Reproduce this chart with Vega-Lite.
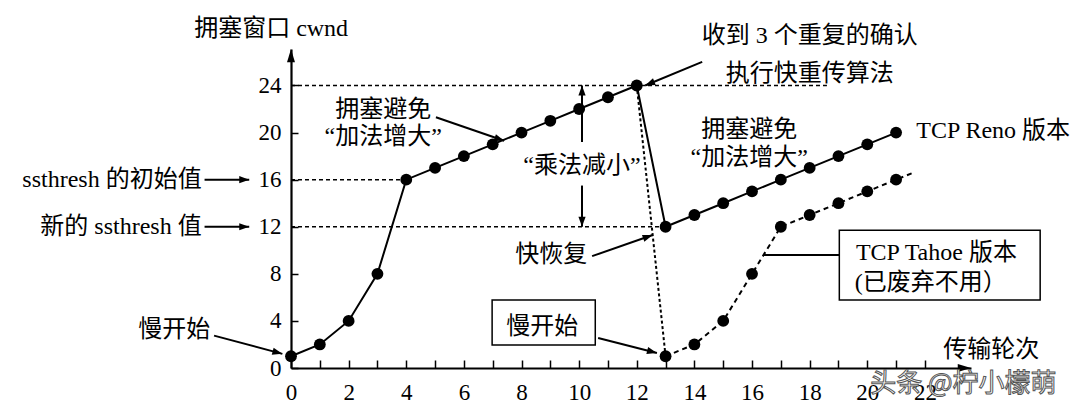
{
  "$schema": "https://vega.github.io/schema/vega-lite/v6.json",
  "width": 680,
  "height": 319,
  "autosize": {"type": "none"},
  "padding": {"left": 291, "top": 49, "right": 109, "bottom": 46},
  "background": "white",
  "config": {"view": {"stroke": null}, "font": "Liberation Serif"},
  "datasets": {
    "reno": [
      {"x": 0, "y": 1}, {"x": 1, "y": 2}, {"x": 2, "y": 4}, {"x": 3, "y": 8}, {"x": 4, "y": 16},
      {"x": 5, "y": 17}, {"x": 6, "y": 18}, {"x": 7, "y": 19}, {"x": 8, "y": 20}, {"x": 9, "y": 21},
      {"x": 10, "y": 22}, {"x": 11, "y": 23}, {"x": 12, "y": 24}, {"x": 13, "y": 12}, {"x": 14, "y": 13},
      {"x": 15, "y": 14}, {"x": 16, "y": 15}, {"x": 17, "y": 16}, {"x": 18, "y": 17}, {"x": 19, "y": 18},
      {"x": 20, "y": 19}, {"x": 21, "y": 20}
    ],
    "drop": [{"x": 12, "y": 24}, {"x": 13, "y": 1}],
    "tahoe": [
      {"x": 13, "y": 1, "dot": true}, {"x": 14, "y": 2, "dot": true}, {"x": 15, "y": 4, "dot": true},
      {"x": 16, "y": 8, "dot": true}, {"x": 17, "y": 12, "dot": true}, {"x": 18, "y": 13, "dot": true},
      {"x": 19, "y": 14, "dot": true}, {"x": 20, "y": 15, "dot": true}, {"x": 21, "y": 16, "dot": true},
      {"x": 21.6, "y": 16.6, "dot": false}
    ],
    "refs": [
      {"y": 24, "x": 0, "x2": 18.6},
      {"y": 16, "x": 0, "x2": 4},
      {"y": 12, "x": 0, "x2": 13}
    ],
    "arrows": [
      {"x": 14.27, "y": 26.0, "x2": 12.29, "y2": 24.0, "angle": 247.5, "head": true},
      {"x": 5.03, "y": 21.3, "x2": 7.4, "y2": 19.3, "angle": 109, "head": true},
      {"x": -3.0, "y": 16, "x2": -1.45, "y2": 16, "angle": 90, "head": true},
      {"x": -3.0, "y": 12, "x2": -1.45, "y2": 12, "angle": 90, "head": true},
      {"x": -2.67, "y": 2.75, "x2": -0.3, "y2": 1.2, "angle": 105, "head": true},
      {"x": 10.45, "y": 9.5, "x2": 12.55, "y2": 11.3, "angle": 70.7, "head": true},
      {"x": 10.66, "y": 2.55, "x2": 12.7, "y2": 1.27, "angle": 104.4, "head": true},
      {"x": 10.1, "y": 19.2, "x2": 10.1, "y2": 24, "angle": 0, "head": true},
      {"x": 10.1, "y": 15.5, "x2": 10.1, "y2": 12, "angle": 180, "head": true},
      {"x": 19.03, "y": 9.6, "x2": 16.4, "y2": 9.6, "angle": 0, "head": false}
    ],
    "axisHeads": [
      {"x": 23.6, "y": 0, "angle": 90},
      {"x": 0, "y": 27.1, "angle": 0}
    ],
    "boxes": [
      {"x": 6.98, "x2": 10.56, "y": 5.77, "y2": 1.95},
      {"x": 19.03, "x2": 26.0, "y": 11.7, "y2": 5.77}
    ],
    "centerText": [
      {"x": -0.69, "y": 28.8, "text": "拥塞窗口 cwnd"},
      {"x": 18.0, "y": 28.2, "text": "收到 3 个重复的确认"},
      {"x": 18.0, "y": 25.0, "text": "执行快重传算法"},
      {"x": 3.2, "y": 21.9, "text": "拥塞避免"},
      {"x": 3.2, "y": 19.6, "text": "“加法增大”"},
      {"x": 10.1, "y": 17.2, "text": "“乘法减小”"},
      {"x": 15.9, "y": 20.2, "text": "拥塞避免"},
      {"x": 15.9, "y": 17.8, "text": "“加法增大”"},
      {"x": 9.03, "y": 9.6, "text": "快恢复"},
      {"x": 8.72, "y": 3.5, "text": "慢开始"},
      {"x": 22.4, "y": 9.8, "text": "TCP Tahoe 版本"},
      {"x": 22.2, "y": 7.2, "text": "(已废弃不用）"},
      {"x": 24.3, "y": 1.5, "text": "传输轮次"}
    ],
    "rightText": [
      {"x": -3.1, "y": 16, "text": "ssthresh 的初始值"},
      {"x": -3.1, "y": 12, "text": "新的 ssthresh 值"},
      {"x": -2.8, "y": 3.2, "text": "慢开始"}
    ],
    "leftText": [
      {"x": 21.7, "y": 20.1, "text": "TCP Reno 版本"}
    ],
    "mark": [
      {"x": 20.1, "y": -1.35, "text": "头条 @柠小檬萌"}
    ]
  },
  "encoding": {
    "x": {
      "field": "x", "type": "quantitative",
      "scale": {"domain": [0, 23.6], "nice": false, "zero": false},
      "axis": {
        "values": [0,1,2,3,4,5,6,7,8,9,10,11,12,13,14,15,16,17,18,19,20,21,22],
        "labelExpr": "datum.value % 2 === 0 ? datum.label : ''",
        "title": null, "grid": false,
        "domainColor": "black", "domainWidth": 2.2,
        "tickColor": "black", "tickWidth": 1.5, "tickSize": -8,
        "labelFont": "Liberation Serif", "labelFontSize": 23, "labelColor": "black",
        "labelPadding": 21, "labelFlush": false, "labelOverlap": false
      }
    },
    "y": {
      "field": "y", "type": "quantitative",
      "scale": {"domain": [0, 27.1], "nice": false, "zero": false},
      "axis": {
        "values": [0, 4, 8, 12, 16, 20, 24],
        "title": null, "grid": false,
        "domainColor": "black", "domainWidth": 2.2,
        "tickColor": "black", "tickWidth": 1.5, "tickSize": -7,
        "labelFont": "Liberation Serif", "labelFontSize": 23, "labelColor": "black",
        "labelPadding": 17, "labelFlush": false, "labelOverlap": false
      }
    }
  },
  "layer": [
    {
      "data": {"name": "refs"},
      "mark": {"type": "rule", "color": "black", "strokeWidth": 1.5, "strokeDash": [4, 3]},
      "encoding": {"x2": {"field": "x2"}}
    },
    {
      "data": {"name": "boxes"},
      "mark": {"type": "rect", "fill": "black", "xOffset": 3, "yOffset": 3},
      "encoding": {"x2": {"field": "x2"}, "y2": {"field": "y2"}}
    },
    {
      "data": {"name": "boxes"},
      "mark": {"type": "rect", "fill": "white", "stroke": "black", "strokeWidth": 1.5},
      "encoding": {"x2": {"field": "x2"}, "y2": {"field": "y2"}}
    },
    {
      "data": {"name": "drop"},
      "mark": {"type": "line", "color": "black", "strokeWidth": 2, "strokeDash": [3, 2.5]},
      "encoding": {}
    },
    {
      "data": {"name": "tahoe"},
      "mark": {"type": "line", "color": "black", "strokeWidth": 2, "strokeDash": [5, 4]},
      "encoding": {}
    },
    {
      "data": {"name": "reno"},
      "mark": {"type": "line", "color": "black", "strokeWidth": 2},
      "encoding": {}
    },
    {
      "data": {"name": "reno"},
      "mark": {"type": "circle", "color": "black", "opacity": 1, "size": 140},
      "encoding": {}
    },
    {
      "data": {"name": "tahoe"},
      "transform": [{"filter": "datum.dot"}],
      "mark": {"type": "circle", "color": "black", "opacity": 1, "size": 140},
      "encoding": {}
    },
    {
      "data": {"name": "arrows"},
      "mark": {"type": "rule", "color": "black", "strokeWidth": 2},
      "encoding": {"x2": {"field": "x2"}, "y2": {"field": "y2"}}
    },
    {
      "data": {"name": "arrows"},
      "transform": [{"filter": "datum.head"}],
      "mark": {"type": "point", "shape": "M0,0L0.36,1L-0.36,1Z", "filled": true, "color": "black", "opacity": 1, "size": 400, "strokeWidth": 0},
      "encoding": {
        "x": {"field": "x2", "type": "quantitative"},
        "y": {"field": "y2", "type": "quantitative"},
        "angle": {"field": "angle", "type": "quantitative", "scale": null}
      }
    },
    {
      "data": {"name": "axisHeads"},
      "mark": {"type": "point", "shape": "M0,0L0.3,1L-0.3,1Z", "filled": true, "color": "black", "opacity": 1, "size": 700, "strokeWidth": 0},
      "encoding": {
        "angle": {"field": "angle", "type": "quantitative", "scale": null}
      }
    },
    {
      "data": {"name": "centerText"},
      "mark": {"type": "text", "align": "center", "baseline": "middle", "font": "Liberation Serif, Noto Sans CJK SC", "fontSize": 24, "color": "black"},
      "encoding": {"text": {"field": "text"}}
    },
    {
      "data": {"name": "rightText"},
      "mark": {"type": "text", "align": "right", "baseline": "middle", "font": "Liberation Serif, Noto Sans CJK SC", "fontSize": 24, "color": "black"},
      "encoding": {"text": {"field": "text"}}
    },
    {
      "data": {"name": "leftText"},
      "mark": {"type": "text", "align": "left", "baseline": "middle", "font": "Liberation Serif, Noto Sans CJK SC", "fontSize": 24, "color": "black"},
      "encoding": {"text": {"field": "text"}}
    },
    {
      "data": {"name": "mark"},
      "mark": {"type": "text", "align": "left", "baseline": "middle", "font": "Noto Sans CJK SC", "fontSize": 26, "fill": "white", "stroke": "#555555", "strokeWidth": 1},
      "encoding": {"text": {"field": "text"}}
    }
  ]
}
